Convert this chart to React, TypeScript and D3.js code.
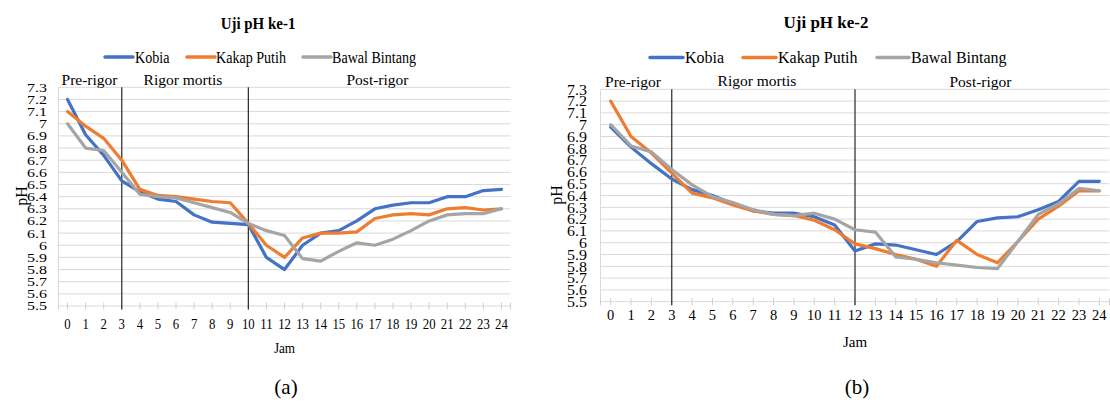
import React from "react";
import * as d3 from "d3";

// ---------- DATA ----------
const hours = [0, 1, 2, 3, 4, 5, 6, 7, 8, 9, 10, 11, 12, 13, 14, 15, 16, 17, 18, 19, 20, 21, 22, 23, 24];
const yTickValues = [5.5, 5.6, 5.7, 5.8, 5.9, 6.0, 6.1, 6.2, 6.3, 6.4, 6.5, 6.6, 6.7, 6.8, 6.9, 7.0, 7.1, 7.2, 7.3];
const yTickLabels = ["5.5", "5.6", "5.7", "5.8", "5.9", "6", "6.1", "6.2", "6.3", "6.4", "6.5", "6.6", "6.7", "6.8", "6.9", "7", "7.1", "7.2", "7.3"];
const seriesNames = ["Kobia", "Kakap Putih", "Bawal Bintang"];
const seriesColors = ["#4472C4", "#ED7D31", "#A5A5A5"];

// Uji pH ke-1
const k1Kobia = [7.20, 6.91, 6.74, 6.53, 6.44, 6.38, 6.36, 6.25, 6.19, 6.18, 6.17, 5.90, 5.80, 6.00, 6.10, 6.12, 6.20, 6.30, 6.33, 6.35, 6.35, 6.40, 6.40, 6.45, 6.46];
const k1Kakap = [7.10, 6.98, 6.88, 6.70, 6.46, 6.41, 6.40, 6.38, 6.36, 6.35, 6.18, 6.00, 5.90, 6.06, 6.10, 6.10, 6.11, 6.22, 6.25, 6.26, 6.25, 6.30, 6.31, 6.29, 6.30];
const k1Bawal = [7.00, 6.80, 6.78, 6.60, 6.42, 6.40, 6.39, 6.35, 6.31, 6.27, 6.18, 6.12, 6.08, 5.89, 5.87, 5.95, 6.02, 6.00, 6.05, 6.12, 6.20, 6.25, 6.26, 6.26, 6.30];

// Uji pH ke-2
const k2Kobia = [6.98, 6.81, 6.67, 6.54, 6.45, 6.40, 6.33, 6.27, 6.25, 6.25, 6.22, 6.15, 5.93, 5.99, 5.98, 5.94, 5.90, 6.01, 6.18, 6.21, 6.22, 6.28, 6.35, 6.52, 6.52];
const k2Kakap = [7.20, 6.90, 6.76, 6.59, 6.42, 6.38, 6.32, 6.27, 6.24, 6.23, 6.19, 6.11, 5.99, 5.95, 5.90, 5.86, 5.80, 6.02, 5.90, 5.83, 6.01, 6.20, 6.31, 6.44, 6.44];
const k2Bawal = [7.00, 6.82, 6.77, 6.62, 6.49, 6.39, 6.34, 6.28, 6.24, 6.23, 6.25, 6.20, 6.11, 6.09, 5.88, 5.86, 5.83, 5.81, 5.79, 5.78, 6.01, 6.24, 6.33, 6.46, 6.44];

const separators1 = [3, 10];
const separators2 = [3, 12];
const sectionLabels = ["Pre-rigor", "Rigor mortis", "Post-rigor"];
const titles = ["Uji pH ke-1", "Uji pH ke-2"];
const captions = ["(a)", "(b)"];
const xTitle = "Jam";
const yTitle = "pH";

// ---------- LAYOUT ----------
const FONT = "'Liberation Serif', 'Times New Roman', Times, serif";

type Cfg = {
  left: number; right: number; top: number; bottom: number;
  sx: number; ylSy: number; ylRight: number; ylSize: number;
  xlBase: number; xlSize: number; xlSy: number;
  jamBase: number; pHx: number; pHy: number;
  titleX: number; titleBase: number;
  legendBase: number; legendLines: [number, number][]; legendTextX: number[];
  secX: number[]; secBase: number[];
  capX: number; capBase: number;
  series: number[][]; seps: number[]; title: string; caption: string;
};

const cfgs: Cfg[] = [
  {
    left: 58.5, right: 510.5, top: 87.3, bottom: 306,
    sx: 0.88, ylSy: 0.82, ylRight: 47, ylSize: 16,
    xlBase: 329, xlSize: 14.5, xlSy: 1,
    jamBase: 353, pHx: 21, pHy: 196,
    titleX: 258, titleBase: 29,
    legendBase: 62.5, legendLines: [[105, 133], [187, 215], [303, 331]], legendTextX: [135, 216, 332],
    secX: [89.5, 183, 377.5], secBase: [85, 85, 85],
    capX: 286, capBase: 394,
    series: [k1Kobia, k1Kakap, k1Bawal], seps: separators1, title: titles[0], caption: captions[0],
  },
  {
    left: 600.5, right: 1109.5, top: 89.3, bottom: 301.7,
    sx: 1, ylSy: 0.9, ylRight: 587, ylSize: 16,
    xlBase: 320, xlSize: 14.5, xlSy: 0.95,
    jamBase: 347, pHx: 556, pHy: 195,
    titleX: 826, titleBase: 27.5,
    legendBase: 63, legendLines: [[650, 683], [743, 776], [877, 909]], legendTextX: [685, 778, 911],
    secX: [633, 757, 980.5], secBase: [87, 86, 87],
    capX: 857, capBase: 394,
    series: [k2Kobia, k2Kakap, k2Bawal], seps: separators2, title: titles[1], caption: captions[1],
  },
];

function T(props: {
  x: number; y: number; sx?: number; sy?: number; anchor?: string; size: number;
  weight?: string; rotate?: number; baseline?: string; children: React.ReactNode;
}) {
  const { x, y, sx = 1, sy = 1, anchor = "middle", size, weight = "normal", rotate = 0, baseline } = props;
  return (
    <text
      transform={`translate(${x},${y}) rotate(${rotate}) scale(${sx},${sy})`}
      textAnchor={anchor}
      fontSize={size}
      fontWeight={weight}
      fontFamily={FONT}
      fill="#000"
      dominantBaseline={baseline as any}
    >
      {props.children}
    </text>
  );
}

function Chart({ c }: { c: Cfg }) {
  const x = d3.scalePoint<number>().domain(hours).range([c.left, c.right]).padding(0.5);
  const y = d3.scaleLinear().domain([5.5, 7.3]).range([c.bottom, c.top]);
  const line = d3
    .line<number>()
    .x((_, i) => x(hours[i]) as number)
    .y((v) => y(v));

  return (
    <g>
      {yTickValues.map((v, i) => (
        <line key={"g" + i} x1={c.left} x2={c.right} y1={y(v)} y2={y(v)} stroke="#d9d9d9" strokeWidth={1} />
      ))}
      <line x1={c.left} x2={c.left} y1={c.top} y2={c.bottom} stroke="#d9d9d9" strokeWidth={1} />
      {hours.map((h) => (
        <line key={"t" + h} x1={x(h)} x2={x(h)} y1={c.bottom - 3.5} y2={c.bottom + 3.5} stroke="#d0d0d0" strokeWidth={1} />
      ))}
      <line x1={c.left} x2={c.left} y1={c.bottom - 3.5} y2={c.bottom + 3.5} stroke="#d0d0d0" strokeWidth={1} />
      <line x1={c.right} x2={c.right} y1={c.bottom - 3.5} y2={c.bottom + 3.5} stroke="#d0d0d0" strokeWidth={1} />

      {yTickValues.map((v, i) => (
        <T key={"yl" + i} x={c.ylRight} y={y(v)} sx={1} sy={c.ylSy} anchor="end" size={c.ylSize} baseline="central">
          {yTickLabels[i]}
        </T>
      ))}
      {hours.map((h) => (
        <T key={"xl" + h} x={x(h) as number} y={c.xlBase} sx={c.sx} sy={c.xlSy} size={c.xlSize}>
          {String(h)}
        </T>
      ))}

      {c.seps.map((h) => (
        <line key={"s" + h} x1={x(h)} x2={x(h)} y1={c.top} y2={c.bottom + 3.5} stroke="#262626" strokeWidth={1.2} />
      ))}

      {c.series.map((s, i) => (
        <path
          key={"p" + i}
          d={line(s) as string}
          fill="none"
          stroke={seriesColors[i]}
          strokeWidth={3.2}
          strokeLinejoin="round"
          strokeLinecap="round"
        />
      ))}

      {sectionLabels.map((s, i) => (
        <T key={"sec" + i} x={c.secX[i]} y={c.secBase[i]} size={15.5}>
          {s}
        </T>
      ))}

      <T x={c.titleX} y={c.titleBase} sx={c.sx} size={17} weight="bold">
        {c.title}
      </T>

      {seriesNames.map((n, i) => (
        <g key={"lg" + i}>
          <line
            x1={c.legendLines[i][0]}
            x2={c.legendLines[i][1]}
            y1={c.legendBase - 5.5}
            y2={c.legendBase - 5.5}
            stroke={seriesColors[i]}
            strokeWidth={3.5}
            strokeLinecap="round"
          />
          <T x={c.legendTextX[i]} y={c.legendBase} sx={c.sx} size={16} anchor="start">
            {n}
          </T>
        </g>
      ))}

      <T x={(c.left + c.right) / 2} y={c.jamBase} sx={c.sx} size={15}>
        {xTitle}
      </T>
      <T x={c.pHx} y={c.pHy} rotate={-90} size={16} baseline="central">
        {yTitle}
      </T>

      <T x={c.capX} y={c.capBase} size={21}>
        {c.caption}
      </T>
    </g>
  );
}

export default function App() {
  return (
    <svg
      width={1110}
      height={403}
      viewBox="0 0 1110 403"
      style={{ position: "absolute", left: 0, top: 0, background: "#fff" }}
    >
      <rect x={0} y={0} width={1110} height={403} fill="#fff" />
      {cfgs.map((c, i) => (
        <Chart key={i} c={c} />
      ))}
    </svg>
  );
}
